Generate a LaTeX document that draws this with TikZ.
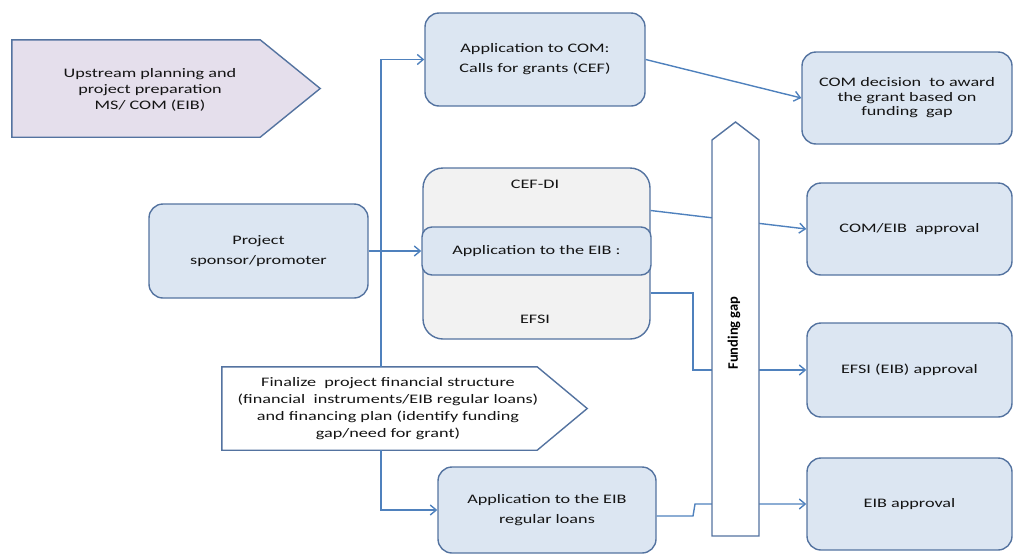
\documentclass[tikz,border=0pt]{standalone}
\usepackage{fontspec}
\setmainfont{Carlito}[FakeStretch=1.4]
\newfontfamily\gapfont{Carlito}
\usetikzlibrary{arrows.meta,calc}
\definecolor{boxline}{RGB}{84,115,160}
\definecolor{conline}{RGB}{79,129,189}
\definecolor{boxfill}{RGB}{220,230,242}
\definecolor{grayfill}{RGB}{242,242,242}
\definecolor{lavfill}{RGB}{229,223,236}
\definecolor{txt}{RGB}{20,20,20}
\tikzset{
  box/.style={draw=boxline, line width=1.4pt, fill=boxfill, rounded corners=14pt,
    align=center, text=txt, font=\fontsize{13}{20}\selectfont, inner sep=0pt},
  lbl/.style={align=center, text=txt, inner sep=0pt},
  conn/.style={draw=conline, line width=1.4pt, -{Straight Barb[length=6pt,width=10pt]}},
  penta/.style={draw=boxline, line width=1.4pt},
}
\begin{document}
\begin{tikzpicture}[x=1pt,y=-1pt]
\useasboundingbox (0,0) rectangle (1014,555);

% upstream pentagon
\node[minimum width=248pt, minimum height=97pt, inner sep=0pt] (up) at (136,88.5) {};
\draw[penta, fill=lavfill] (up.north west) -- (up.north east) -- ($(up.east)+(60,0)$) -- (up.south east) -- (up.south west) -- cycle;
\node[lbl, font=\fontsize{13}{16}\selectfont] (uptext) at (150,90) {Upstream planning and\\project preparation\\MS/ COM (EIB)};

% finalize pentagon
\node[minimum width=315pt, minimum height=83pt, inner sep=0pt] (fin) at (379.5,408.5) {};
\draw[penta, fill=white] (fin.north west) -- (fin.north east) -- ($(fin.east)+(50,0)$) -- (fin.south east) -- (fin.south west) -- cycle;
\node[lbl, font=\fontsize{13}{17}\selectfont] (fintext) at (388,409) {Finalize\ \ project financial structure\\(financial\ \ instruments/EIB regular loans)\\and financing plan (identify funding\\gap/need for grant)};

% boxes
\node[box, minimum width=220pt, minimum height=93pt] (comapp) at (535,59.5) {Application to COM:\\Calls for grants (CEF)};
\node[box, minimum width=210pt, minimum height=92pt, font=\fontsize{13}{14.5}\selectfont] (comdec) at (907,98) {COM decision\ \ to award\\the grant based on\\funding\ \ gap};
\node[box, minimum width=219pt, minimum height=94pt] (sponsor) at (258.5,251) {Project\\sponsor/promoter};
\node[box, fill=grayfill, rounded corners=20pt, minimum width=227pt, minimum height=171pt] (cef) at (536.5,253.5) {};
\node[lbl, font=\fontsize{13}{16}\selectfont] (cefdi) at (535,184) {CEF-DI};
\node[lbl, font=\fontsize{13}{16}\selectfont] (efsi) at (535,319) {EFSI};
\node[box, rounded corners=10pt, minimum width=229pt, minimum height=48pt] (eib) at (536.5,251) {Application to the EIB :};
\node[box, minimum width=218pt, minimum height=86pt] (loans) at (547,510) {Application to the EIB\\regular loans};
\node[box, minimum width=205pt, minimum height=92pt] (ceapp) at (909.5,229) {COM/EIB\ \ approval};
\node[box, minimum width=205pt, minimum height=94pt] (efsiapp) at (909.5,370) {EFSI (EIB) approval};
\node[box, minimum width=205pt, minimum height=92pt] (eibapp) at (909.5,504) {EIB approval};

% connectors
\coordinate (tk) at (381,0);
\draw[conn] (fin.north -| tk) |- (comapp.west);
\draw[conn] (fin.south -| tk) |- (loans.west);
\draw[conn] (sponsor.east) -- (eib.west);
\draw[conn] (comapp.east) -- (comdec.west);
\draw[conn] ([yshift=43pt]cef.east) -- (ceapp.west);
\coordinate (ek) at (693,370);
\draw[conn] ([yshift=-39.5pt]cef.east) -| (ek) -- (efsiapp.west);
\draw[conn] ([yshift=-6pt]loans.east) -- (693,516) -- (695,504) -- (eibapp.west);

% funding gap arrow
\draw[penta, fill=white] (712,536) -- (712,140) -- (735.5,122) -- (759,140) -- (759,536) -- cycle;
\node[rotate=90, text=black, inner sep=0pt, font=\gapfont\bfseries\fontsize{14.5}{14.5}\selectfont] (gap) at (734,333) {Funding gap};
\end{tikzpicture}
\end{document}
